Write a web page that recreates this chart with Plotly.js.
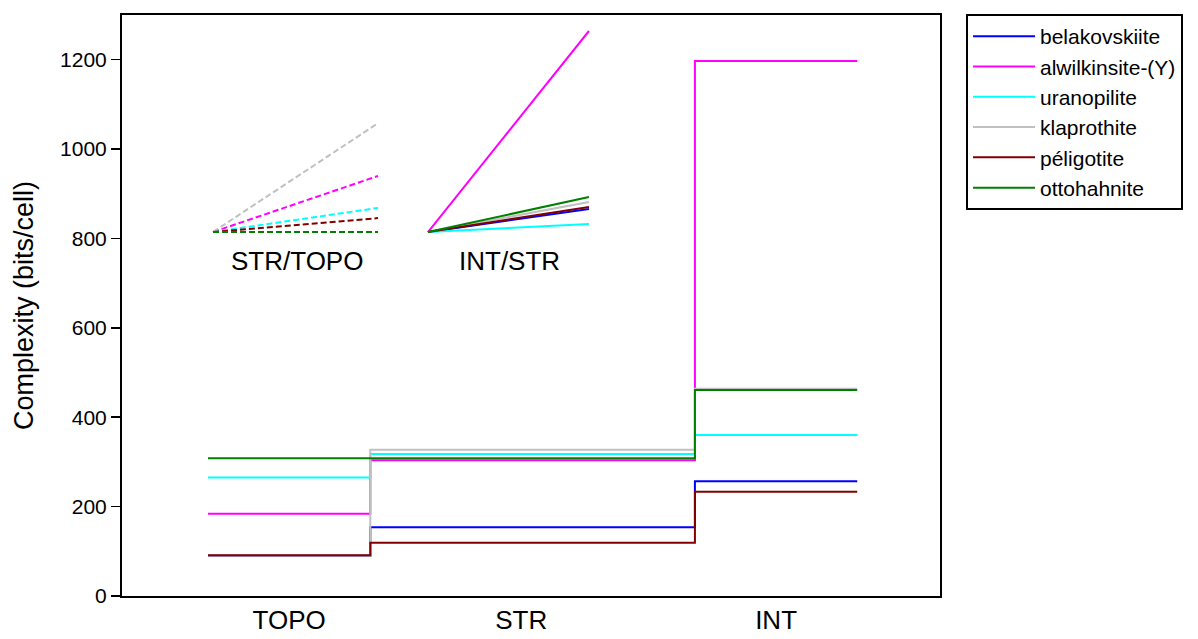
<!DOCTYPE html>
<html>
<head>
<meta charset="utf-8">
<script src="https://cdn.plot.ly/plotly-3.0.1.min.js"></script>
<style>html,body{margin:0;padding:0;background:#fff;}#chart{width:1198px;height:639px;}</style>
</head>
<body>
<div id="chart"></div>
<script>
// ---- data ----
const stages = ['TOPO', 'STR', 'INT'];
const stageTickPos = [0.5, 1.93, 3.5];
const stepEdges = [0, 1, 3, 4];
const minerals = ['belakovskiite', 'alwilkinsite-(Y)', 'uranopilite', 'klaprothite', 'péligotite', 'ottohahnite'];
const colors = ['#0000ff', '#ff00ff', '#00ffff', '#c0c0c0', '#800000', '#008000'];
const topoValues = [90, 184, 265, 90, 91, 308];
const strValues = [154, 304, 318, 327, 119, 308];
const intValues = [257, 1197, 360, 464, 233, 461];
// inset rises (change in complexity)
const strTopoRise = [null, 121, 52, 235, 30, 0];
const intStrRise = [102, 892, 36, 133, 111, 155];
const insetLabels = ['STR/TOPO', 'INT/STR'];

const FONT = 'Arial, "Liberation Sans", sans-serif';
const traces = [];

minerals.forEach((name, i) => {
  traces.push({
    type: 'scatter', mode: 'lines', name: name,
    x: stepEdges,
    y: [topoValues[i], strValues[i], intValues[i], intValues[i]],
    line: {shape: 'hv', color: colors[i], width: 2},
    xaxis: 'x', yaxis: 'y', hoverinfo: 'skip'
  });
});
minerals.forEach((name, i) => {
  if (strTopoRise[i] === null) return;
  traces.push({
    type: 'scatter', mode: 'lines', name: name, showlegend: false,
    x: [0, 1], y: [0, strTopoRise[i]],
    line: {color: colors[i], width: 2, dash: '6px,3px'},
    xaxis: 'x2', yaxis: 'y2', hoverinfo: 'skip'
  });
});
minerals.forEach((name, i) => {
  traces.push({
    type: 'scatter', mode: 'lines', name: name, showlegend: false,
    x: [0, 1], y: [0, intStrRise[i]],
    line: {color: colors[i], width: 2},
    xaxis: 'x3', yaxis: 'y3', hoverinfo: 'skip'
  });
});

const layout = {
  width: 1198, height: 639,
  margin: {l: 122, r: 258, t: 15, b: 43},
  paper_bgcolor: '#ffffff', plot_bgcolor: '#ffffff',
  font: {family: FONT, color: '#000'},
  showlegend: true,
  legend: {
    x: 1.0318, y: 1.0017, xanchor: 'left', yanchor: 'top',
    bordercolor: '#000', borderwidth: 2, bgcolor: '#fff',
    font: {family: FONT, size: 21, color: '#000'},
    itemwidth: 62, tracegroupgap: 0,
    entrywidth: 222, entrywidthmode: 'pixels'
  },
  xaxis: {
    range: [-0.53, 4.51], showgrid: false, zeroline: false,
    showline: true, linecolor: '#000', linewidth: 2, mirror: true,
    ticks: '', tickvals: stageTickPos, ticktext: stages,
    tickfont: {family: FONT, size: 26, color: '#000'}
  },
  yaxis: {
    range: [0, 1300], showgrid: false, zeroline: false,
    showline: true, linecolor: '#000', linewidth: 2, mirror: true,
    ticks: 'outside', ticklen: 9, tickwidth: 1.5, tickcolor: '#000',
    tick0: 0, dtick: 200,
    tickfont: {family: FONT, size: 21, color: '#000'},
    title: {text: 'Complexity (bits/cell)', font: {family: FONT, size: 27, color: '#000'}, standoff: 19}
  },
  xaxis2: {domain: [0.1012, 0.3231], range: [-0.05, 1.05], visible: false, anchor: 'y2', fixedrange: true},
  yaxis2: {domain: [0.5749, 1], range: [-64.8, 468.7], visible: false, anchor: 'x2', fixedrange: true},
  xaxis3: {domain: [0.3642, 0.5807], range: [-0.05, 1.05], visible: false, anchor: 'y3', fixedrange: true},
  yaxis3: {domain: [0.5749, 1], range: [-133, 963], visible: false, anchor: 'x3', fixedrange: true},
  annotations: [
    {text: insetLabels[0], xref: 'paper', yref: 'paper', x: 0.214, y: 0.576, xanchor: 'center', yanchor: 'middle', showarrow: false, font: {family: FONT, size: 26, color: '#000'}},
    {text: insetLabels[1], xref: 'paper', yref: 'paper', x: 0.4737, y: 0.576, xanchor: 'center', yanchor: 'middle', showarrow: false, font: {family: FONT, size: 26, color: '#000'}}
  ]
};

Plotly.newPlot('chart', traces, layout, {displayModeBar: false, staticPlot: true});
</script>
</body>
</html>
